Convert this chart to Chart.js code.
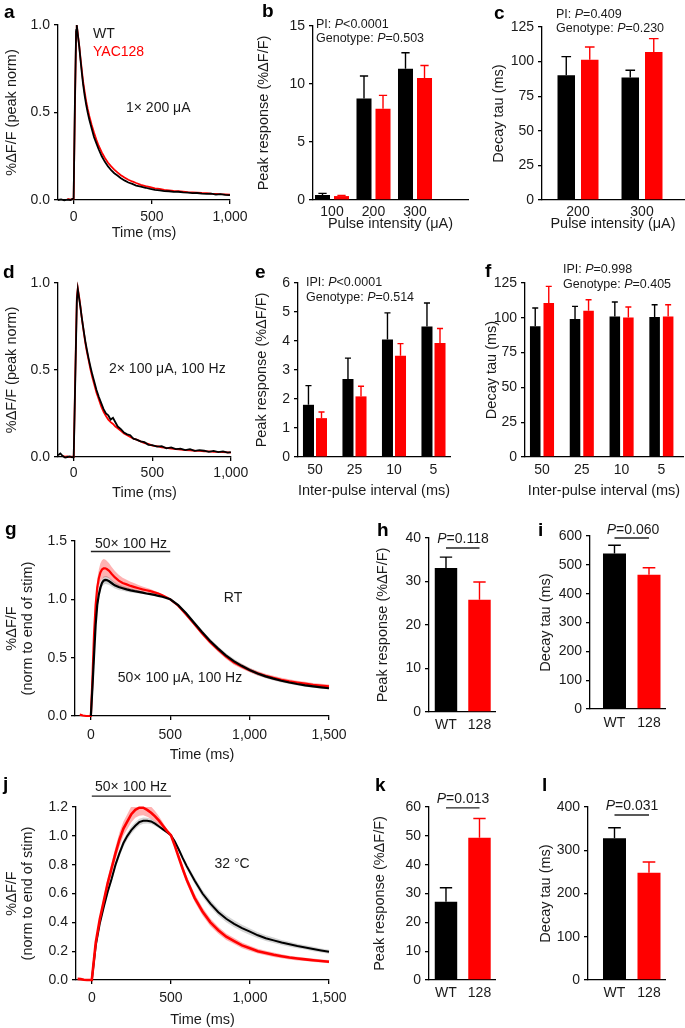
<!DOCTYPE html>
<html>
<head>
<meta charset="utf-8">
<script src="https://cdn.jsdelivr.net/npm/chart.js@4.4.1/dist/chart.umd.min.js"></script>
<style>
html, body { margin: 0; padding: 0; background: #fff; overflow: hidden; }
#fig { position: relative; width: 685px; height: 1028px; }
canvas { position: absolute; }
</style>
</head>
<body>
<div id="fig"></div>
<script>
// ---------- data ----------

// a: 1x 200 uA single pulse, peak-normalised traces
const aTime = [-100,-80,-60,-40,-20,0,8,16,20,28,36,44,52,60,70,80,90,100,115,130,145,160,180,200,220,240,260,280,300,325,350,375,400,430,460,490,520,550,580,610,640,670,700,730,760,790,820,850,880,910,940,970,1000];
const aWT = [0,0.003,-0.002,0.002,0,0.01,0.55,0.97,1.0,0.935,0.875,0.80,0.73,0.665,0.60,0.545,0.50,0.46,0.41,0.36,0.325,0.29,0.25,0.218,0.192,0.17,0.153,0.14,0.126,0.112,0.1,0.092,0.082,0.076,0.07,0.063,0.058,0.055,0.051,0.05,0.046,0.047,0.043,0.042,0.039,0.04,0.036,0.035,0.036,0.031,0.033,0.029,0.028];
const aYAC = [null,null,null,0.006,0.002,0.008,0.52,0.96,1.0,0.94,0.88,0.81,0.745,0.68,0.62,0.565,0.52,0.48,0.43,0.385,0.345,0.31,0.272,0.24,0.213,0.192,0.174,0.158,0.143,0.128,0.116,0.106,0.097,0.087,0.079,0.073,0.067,0.063,0.058,0.055,0.052,0.05,0.048,0.045,0.044,0.042,0.04,0.039,0.036,0.035,0.033,0.032,0.03];

// b: peak response vs pulse intensity
const pulseCats = ['100', '200', '300'];
const bWT = [0.43, 8.74, 11.32];
const bWTsem = [0.14, 1.95, 1.38];
const bYAC = [0.34, 7.87, 10.52];
const bYACsem = [0.06, 1.15, 1.08];

// c: decay tau vs pulse intensity
const tauCats = ['200', '300'];
const cWT = [90.1, 88.5];
const cWTsem = [13.5, 5.3];
const cYAC = [101.4, 107.0];
const cYACsem = [9.2, 9.6];

// d: 2x 100 uA, 100 Hz
const dTime = [-100,-85,-70,-55,-40,-25,-10,0,10,20,26,34,42,50,58,66,74,84,95,106,118,130,145,160,175,190,205,220,235,250,265,280,300,320,340,360,380,400,425,450,475,500,530,560,590,620,650,680,710,740,770,800,830,860,890,920,950,980,1000];
const dWT = [0.01,0.02,0.005,-0.003,0,0.003,-0.002,0,0.45,0.9,0.965,0.915,0.866,0.81,0.76,0.71,0.665,0.615,0.565,0.52,0.475,0.435,0.385,0.345,0.31,0.275,0.25,0.24,0.215,0.225,0.2,0.175,0.16,0.14,0.13,0.125,0.105,0.1,0.09,0.085,0.07,0.068,0.06,0.062,0.05,0.055,0.045,0.048,0.04,0.045,0.035,0.04,0.036,0.03,0.035,0.028,0.032,0.025,0.028];
const dYAC = [null,null,0.005,0.002,0.004,0,0.002,0,0.48,0.92,0.97,0.925,0.87,0.81,0.755,0.705,0.655,0.605,0.555,0.505,0.46,0.42,0.37,0.33,0.29,0.26,0.235,0.215,0.2,0.19,0.175,0.165,0.15,0.135,0.125,0.115,0.105,0.1,0.09,0.08,0.075,0.065,0.062,0.055,0.052,0.048,0.045,0.042,0.04,0.038,0.036,0.035,0.033,0.032,0.03,0.029,0.028,0.026,0.025];

// e, f: inter-pulse interval
const ipiCats = ['50', '25', '10', '5'];
const eWT = [1.8, 2.69, 4.05, 4.5];
const eWTsem = [0.66, 0.72, 0.92, 0.81];
const eYAC = [1.34, 2.09, 3.49, 3.93];
const eYACsem = [0.21, 0.35, 0.42, 0.5];
const fWT = [93.9, 99.1, 101.0, 100.6];
const fWTsem = [13.1, 9.1, 10.3, 8.8];
const fYAC = [110.6, 105.1, 100.3, 101.0];
const fYACsem = [12.0, 7.9, 7.5, 8.4];

// g: 50x 100 Hz at RT, normalised to end of stim
const gTime = [-90,-70,-50,-30,-10,0,10,20,30,40,50,60,70,80,90,100,115,130,150,175,200,225,250,275,300,325,350,375,400,425,450,475,500,550,600,650,700,750,800,850,900,950,1000,1050,1100,1150,1200,1250,1300,1350,1400,1450,1500];
const gWT = [null,null,null,null,null,0,0.25,0.52,0.78,0.95,1.04,1.10,1.14,1.16,1.166,1.165,1.155,1.14,1.12,1.105,1.095,1.085,1.077,1.07,1.064,1.058,1.05,1.045,1.038,1.03,1.022,1.012,1.0,0.95,0.88,0.80,0.72,0.645,0.58,0.52,0.47,0.43,0.395,0.365,0.34,0.32,0.302,0.287,0.274,0.263,0.254,0.246,0.238];
const gWTsem = [null,null,null,null,null,0,0.01,0.02,0.03,0.03,0.035,0.035,0.035,0.035,0.035,0.035,0.032,0.03,0.028,0.025,0.022,0.02,0.018,0.016,0.014,0.012,0.011,0.01,0.008,0.006,0.005,0.003,0,0.006,0.012,0.016,0.018,0.02,0.02,0.02,0.02,0.019,0.018,0.017,0.016,0.015,0.014,0.013,0.012,0.012,0.011,0.011,0.01];
const gYAC = [null,0.012,0.004,0,0,0,0.32,0.70,0.95,1.10,1.18,1.23,1.255,1.265,1.266,1.26,1.245,1.22,1.19,1.16,1.14,1.128,1.115,1.105,1.095,1.085,1.078,1.07,1.06,1.05,1.035,1.018,1.0,0.945,0.87,0.79,0.71,0.635,0.57,0.51,0.46,0.425,0.393,0.366,0.345,0.327,0.311,0.298,0.287,0.277,0.268,0.261,0.255];
const gYACsem = [null,0,0,0,0,0,0.02,0.04,0.06,0.07,0.075,0.08,0.08,0.08,0.075,0.07,0.065,0.06,0.055,0.05,0.045,0.04,0.036,0.032,0.028,0.025,0.022,0.018,0.014,0.01,0.007,0.004,0,0.008,0.012,0.015,0.017,0.018,0.019,0.02,0.02,0.02,0.019,0.019,0.018,0.018,0.017,0.017,0.016,0.016,0.015,0.015,0.015];

// h, i: RT summary
const genoCats = ['WT', '128'];
const hPeak = [33.1, 25.8];
const hSem = [2.5, 4.1];
const iTau = [539, 466];
const iSem = [29, 24];

// j: 50x 100 Hz at 32 C
const jTime = [-90,-70,-50,-30,-10,0,25,50,75,100,125,150,175,200,225,250,275,300,325,350,375,400,425,450,475,500,525,550,575,600,650,700,750,800,850,900,950,1000,1050,1100,1150,1200,1250,1300,1350,1400,1450,1500];
const jWT = [null,null,null,null,null,0,0.24,0.39,0.505,0.61,0.70,0.80,0.88,0.95,1.0,1.04,1.07,1.095,1.105,1.105,1.10,1.085,1.065,1.045,1.025,1.005,0.96,0.905,0.845,0.79,0.69,0.60,0.53,0.47,0.425,0.39,0.36,0.335,0.31,0.29,0.275,0.26,0.248,0.236,0.226,0.215,0.205,0.196];
const jWTsem = [null,null,null,null,null,0,0.01,0.015,0.02,0.022,0.025,0.025,0.025,0.025,0.025,0.025,0.025,0.024,0.022,0.02,0.018,0.016,0.013,0.01,0.006,0,0.008,0.014,0.018,0.02,0.022,0.024,0.025,0.025,0.025,0.024,0.023,0.022,0.021,0.02,0.019,0.018,0.017,0.016,0.015,0.015,0.014,0.014];
const jYAC = [0.008,0.006,0.002,0,0,0,0.26,0.42,0.545,0.67,0.775,0.88,0.975,1.05,1.10,1.15,1.18,1.195,1.195,1.18,1.16,1.135,1.105,1.07,1.035,1.005,0.93,0.85,0.77,0.695,0.57,0.475,0.40,0.345,0.30,0.27,0.24,0.22,0.20,0.187,0.175,0.165,0.156,0.149,0.143,0.137,0.132,0.127];
const jYACsem = [0,0,0,0,0,0,0.015,0.025,0.03,0.035,0.04,0.045,0.05,0.05,0.052,0.055,0.055,0.055,0.052,0.048,0.043,0.037,0.03,0.022,0.012,0,0.01,0.018,0.022,0.025,0.028,0.028,0.027,0.025,0.023,0.021,0.02,0.018,0.017,0.016,0.015,0.014,0.013,0.013,0.012,0.012,0.011,0.011];

// k, l: 32 C summary
const kPeak = [27.1, 49.3];
const kSem = [4.9, 6.7];
const lTau = [328, 247.7];
const lSem = [24, 25.3];

// tick labels
const timeTicks = [0, 500, 1000];
const timeTicksLong = [0, 500, 1000, 1500];

// ---------- styling ----------
const FONT = '"Liberation Sans", Arial, Helvetica, sans-serif';
const INK = '#1a1a1a';
const BLACK = '#000000';
const RED = '#ff0000';
const GREY_BAND = 'rgba(0,0,0,0.17)';
const RED_BAND = 'rgba(255,0,0,0.3)';

Chart.defaults.font.family = FONT;
Chart.defaults.font.size = 14;
Chart.defaults.color = INK;

function thousands(v) {
  return v >= 1000 ? Math.floor(v / 1000) + ',' + String(v % 1000).padStart(3, '0') : String(v);
}

// text with *italic* runs
function rich(ctx, str, x, y, size, align, color, bold) {
  const parts = str.split('*');
  const fonts = parts.map((p, i) => (i % 2 ? 'italic ' : '') + (bold ? 'bold ' : '') + size + 'px ' + FONT);
  let w = 0;
  parts.forEach((p, i) => { ctx.font = fonts[i]; w += ctx.measureText(p).width; });
  let cx = align === 'center' ? x - w / 2 : x;
  ctx.save();
  ctx.fillStyle = color;
  ctx.textBaseline = 'middle';
  ctx.textAlign = 'left';
  parts.forEach((p, i) => { ctx.font = fonts[i]; ctx.fillText(p, cx, y); cx += ctx.measureText(p).width; });
  ctx.restore();
}

function yAxis(min, max, step, title, dec) {
  return {
    type: 'linear', min: min, max: max,
    ticks: { stepSize: step, padding: 4, callback: v => dec ? v.toFixed(dec) : String(v) },
    grid: { drawOnChartArea: false, tickLength: 4, color: BLACK, lineWidth: 1.3 },
    border: { color: BLACK, width: 1.3 },
    title: { display: true, text: title, font: { size: 14.5, lineHeight: 1.1 }, padding: { top: 4, bottom: 4 } }
  };
}

function timeAxis(max, ticks, pad, titlePad) {
  return {
    type: 'linear', min: -100, max: max,
    afterBuildTicks: s => { s.ticks = ticks.map(v => ({ value: v })); },
    ticks: { padding: pad, autoSkip: false, maxRotation: 0, callback: v => thousands(v) },
    grid: { drawOnChartArea: false, tickLength: 4, color: BLACK, lineWidth: 1.3 },
    border: { color: BLACK, width: 1.3 },
    title: { display: true, text: 'Time (ms)', font: { size: 14.5, lineHeight: 1.1 }, padding: { top: 0, bottom: titlePad } }
  };
}

function catAxis(cats, min, max, pad, title) {
  return {
    type: 'linear', min: min, max: max, offset: false,
    afterBuildTicks: s => { s.ticks = cats.map((c, i) => ({ value: i })); },
    ticks: { padding: pad, autoSkip: false, maxRotation: 0, callback: v => cats[v] },
    grid: { display: false, drawTicks: false, tickLength: 0 },
    border: { color: BLACK, width: 1.3 },
    title: title ? { display: true, text: title, font: { size: 14.5, lineHeight: 1.1 }, padding: { top: 0, bottom: 4 } } : { display: false }
  };
}

function xy(t, v) { return t.map((x, i) => ({ x: x, y: v[i] })); }

function trace(t, v, color, width, order) {
  return { data: xy(t, v), borderColor: color, borderWidth: width, pointRadius: 0, fill: false, tension: 0, clip: false, order: order };
}

function band(t, v, sem, color) {
  const up = v.map((y, i) => y == null || sem[i] == null ? null : y + sem[i]);
  const lo = v.map((y, i) => y == null || sem[i] == null ? null : y - sem[i]);
  return [
    { data: xy(t, up), borderWidth: 0, pointRadius: 0, fill: false, clip: false, order: 5 },
    { data: xy(t, lo), borderWidth: 0, pointRadius: 0, fill: '-1', backgroundColor: color, clip: false, order: 5 }
  ];
}

function bars(vals, sem, color, cp, bp) {
  return { data: vals.map((v, i) => ({ x: i, y: v })), errors: sem, backgroundColor: color, borderWidth: 0, categoryPercentage: cp, barPercentage: bp };
}

// error bars + text/lines drawn on top
function extras(notes, ox, oy) {
  return {
    id: 'extras',
    afterDatasetsDraw(chart) {
      const ctx = chart.ctx, ys = chart.scales.y;
      chart.data.datasets.forEach((ds, di) => {
        if (!ds.errors) return;
        chart.getDatasetMeta(di).data.forEach((bar, i) => {
          const top = ys.getPixelForValue(ds.data[i].y + ds.errors[i]);
          const col = Array.isArray(ds.backgroundColor) ? ds.backgroundColor[i] : ds.backgroundColor;
          const cap = Math.max(bar.width * 0.55, 6);
          ctx.save();
          ctx.strokeStyle = col;
          ctx.lineWidth = 1.4;
          ctx.beginPath();
          ctx.moveTo(bar.x, bar.y);
          ctx.lineTo(bar.x, top);
          ctx.moveTo(bar.x - cap / 2, top);
          ctx.lineTo(bar.x + cap / 2, top);
          ctx.stroke();
          ctx.restore();
        });
      });
    },
    afterDraw(chart) {
      const ctx = chart.ctx, xs = chart.scales.x, ys = chart.scales.y;
      notes.forEach(n => {
        if (n.line) {
          const y = ys.getPixelForValue(n.line[2]);
          ctx.save();
          ctx.strokeStyle = '#222';
          ctx.lineWidth = 1.3;
          ctx.beginPath();
          ctx.moveTo(xs.getPixelForValue(n.line[0]), y);
          ctx.lineTo(xs.getPixelForValue(n.line[1]), y);
          ctx.stroke();
          ctx.restore();
        } else {
          rich(ctx, n.text, n.x - ox, n.y - oy, n.size || 14, n.align || 'left', n.color || INK, n.bold);
        }
      });
    }
  };
}

// box = canvas [x, y, w, h], area = plot [left, top, right, bottom], page pixels
function panel(type, box, area, datasets, xScale, yScale, notes) {
  const [x, y, w, h] = box, [L, T, R, B] = area;
  const cv = document.createElement('canvas');
  cv.width = w; cv.height = h;
  cv.style.left = x + 'px'; cv.style.top = y + 'px';
  document.getElementById('fig').appendChild(cv);
  xScale.afterFit = s => { s.height = y + h - B; };
  yScale.afterFit = s => { s.width = L - x; };
  new Chart(cv, {
    type: type,
    data: { datasets: datasets },
    options: {
      responsive: false, animation: false, events: [], devicePixelRatio: 1,
      layout: { padding: { left: 0, top: T - y, right: x + w - R, bottom: 0 } },
      plugins: { legend: { display: false }, tooltip: { enabled: false } },
      scales: { x: xScale, y: yScale }
    },
    plugins: [extras(notes, x, y)]
  });
}

const letter = (t, x, y) => ({ text: t, x: x, y: y, size: 19, bold: true, color: '#000' });

// ---------- panels ----------
panel('line', [0, 0, 252, 245], [58, 25, 233, 200],
  [trace(aTime, aWT, BLACK, 1.8, 0), trace(aTime, aYAC, RED, 1.8, 1)],
  timeAxis(1000, timeTicks, 4.5, 4), yAxis(0, 1, 0.5, '%ΔF/F (peak norm)', 1),
  [letter('a', 4, 13), { text: 'WT', x: 93, y: 34 }, { text: 'YAC128', x: 93, y: 52, color: RED },
   { text: '1× 200 μA', x: 126, y: 108 }]);

panel('bar', [252, 0, 235, 236], [313, 26, 468, 200],
  [bars(bWT, bWTsem, BLACK, 0.916, 0.79), bars(bYAC, bYACsem, RED, 0.916, 0.79)],
  catAxis(pulseCats, -0.458, 3.277, 3.6, 'Pulse intensity (μA)'), yAxis(0, 15, 5, 'Peak response (%ΔF/F)'),
  [letter('b', 262, 12), { text: 'PI: *P*<0.0001', x: 316, y: 25, size: 12.5 },
   { text: 'Genotype: *P*=0.503', x: 316, y: 39, size: 12.5 }]);

panel('bar', [487, 0, 198, 236], [542, 27, 684, 200],
  [bars(cWT, cWTsem, BLACK, 0.734, 0.745), bars(cYAC, cYACsem, RED, 0.734, 0.745)],
  catAxis(tauCats, -0.5625, 1.656, 3.6, 'Pulse intensity (μA)'), yAxis(0, 125, 25, 'Decay tau (ms)'),
  [letter('c', 494, 14), { text: 'PI: *P*=0.409', x: 556, y: 15, size: 12.5 },
   { text: 'Genotype: *P*=0.230', x: 556, y: 29, size: 12.5 }]);

panel('line', [0, 250, 252, 255], [58, 283, 233, 457],
  [trace(dTime, dWT, BLACK, 1.8, 0), trace(dTime, dYAC, RED, 1.8, 1)],
  timeAxis(1000, timeTicks, 3.6, 4), yAxis(0, 1, 0.5, '%ΔF/F (peak norm)', 1),
  [letter('d', 3, 273), { text: '2× 100 μA, 100 Hz', x: 109, y: 369 }]);

panel('bar', [250, 250, 230, 253], [298, 283, 450, 457],
  [bars(eWT, eWTsem, BLACK, 0.66, 0.846), bars(eYAC, eYACsem, RED, 0.66, 0.846)],
  catAxis(ipiCats, -0.43, 3.418, 4.6, 'Inter-pulse interval (ms)'), yAxis(0, 6, 1, 'Peak response (%ΔF/F)'),
  [letter('e', 255, 273), { text: 'IPI: *P*<0.0001', x: 306, y: 283, size: 12.5 },
   { text: 'Genotype: *P*=0.514', x: 306, y: 298, size: 12.5 }]);

panel('bar', [480, 250, 205, 253], [525, 283, 683, 457],
  [bars(fWT, fWTsem, BLACK, 0.68, 0.78), bars(fYAC, fYACsem, RED, 0.68, 0.78)],
  catAxis(ipiCats, -0.427, 3.543, 4.6, 'Inter-pulse interval (ms)'), yAxis(0, 125, 25, 'Decay tau (ms)'),
  [letter('f', 485, 272), { text: 'IPI: *P*=0.998', x: 563, y: 270, size: 12.5 },
   { text: 'Genotype: *P*=0.405', x: 563, y: 285, size: 12.5 }]);

panel('line', [0, 505, 371, 262], [75, 541, 329, 716],
  [trace(gTime, gWT, BLACK, 2.2, 0), trace(gTime, gYAC, RED, 2.2, 1)]
    .concat(band(gTime, gWT, gWTsem, GREY_BAND), band(gTime, gYAC, gYACsem, RED_BAND)),
  timeAxis(1500, timeTicksLong, 6.6, 4), yAxis(0, 1.5, 0.5, ['%ΔF/F', '(norm to end of stim)'], 1),
  [letter('g', 5, 530), { line: [0, 500, 1.41] }, { text: '50× 100 Hz', x: 131, y: 544, align: 'center' },
   { text: 'RT', x: 233, y: 598, align: 'center' }, { text: '50× 100 μA, 100 Hz', x: 180, y: 678, align: 'center' }]);

panel('bar', [371, 505, 163, 240], [429, 538, 495, 712],
  [bars(hPeak, hSem, [BLACK, RED], 1, 0.67)],
  catAxis(genoCats, -0.507, 1.463, 4.6), yAxis(0, 40, 10, 'Peak response (%ΔF/F)'),
  [letter('h', 377, 531), { line: [0, 1, 37.7] }, { text: '*P*=0.118', x: 463, y: 539, align: 'center' }]);

panel('bar', [534, 505, 151, 240], [590, 536, 665, 709],
  [bars(iTau, iSem, [BLACK, RED], 1, 0.667)],
  catAxis(genoCats, -0.71, 1.464, 5.6), yAxis(0, 600, 100, 'Decay tau (ms)'),
  [letter('i', 538, 531), { line: [0, 1, 593] }, { text: '*P*=0.060', x: 633, y: 530, align: 'center' }]);

panel('line', [0, 765, 368, 263], [76, 807, 329, 980],
  [trace(jTime, jYAC, RED, 2.6, 0), trace(jTime, jWT, BLACK, 2.0, 1)]
    .concat(band(jTime, jWT, jWTsem, GREY_BAND), band(jTime, jYAC, jYACsem, RED_BAND)),
  timeAxis(1500, timeTicksLong, 5.6, 0), yAxis(0, 1.2, 0.2, ['%ΔF/F', '(norm to end of stim)'], 1),
  [letter('j', 3, 785), { line: [0, 500, 1.276] }, { text: '50× 100 Hz', x: 131, y: 787, align: 'center' },
   { text: '32 °C', x: 232, y: 864, align: 'center' }]);

panel('bar', [368, 765, 166, 263], [429, 807, 495, 980],
  [bars(kPeak, kSem, [BLACK, RED], 1, 0.67)],
  catAxis(genoCats, -0.507, 1.463, 4.6), yAxis(0, 60, 10, 'Peak response (%ΔF/F)'),
  [letter('k', 375, 786), { line: [0, 1, 59.7] }, { text: '*P*=0.013', x: 463, y: 799, align: 'center' }]);

panel('bar', [534, 765, 151, 263], [588, 807, 665, 980],
  [bars(lTau, lSem, [BLACK, RED], 1, 0.667)],
  catAxis(genoCats, -0.768, 1.464, 4.6), yAxis(0, 400, 100, 'Decay tau (ms)'),
  [letter('l', 542, 786), { line: [0, 1, 381.5] }, { text: '*P*=0.031', x: 632, y: 806, align: 'center' }]);
</script>
</body>
</html>
